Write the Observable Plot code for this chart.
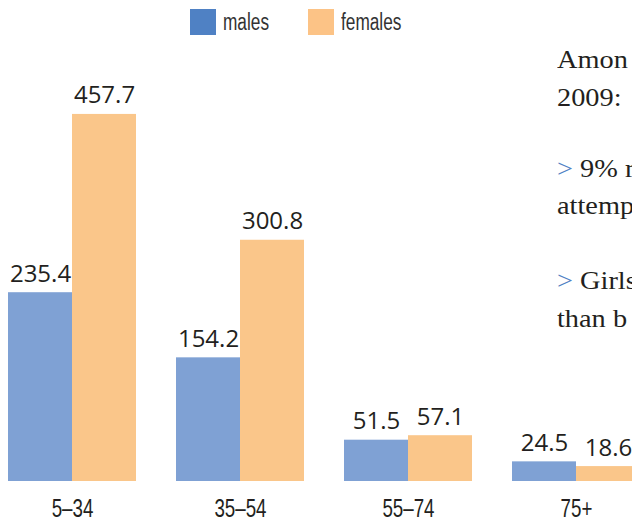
<!DOCTYPE html>
<html>
<head>
<meta charset="utf-8">
<script src="https://cdn.jsdelivr.net/npm/d3@7"></script>
<script src="https://cdn.jsdelivr.net/npm/@observablehq/plot@0.6"></script>
<style>
  html, body { margin: 0; padding: 0; width: 632px; height: 519px; overflow: hidden; background: #fff; }
  #wrap { position: relative; width: 632px; height: 519px; overflow: hidden; }
  #legend { position: relative; height: 45px; width: 632px; font-family: "Liberation Sans", Arial, sans-serif; font-size: 23px; color: #333; }
  .sw { position: absolute; top: 9px; width: 26px; height: 26px; }
  .lt { position: absolute; top: 7px; line-height: 30px; transform: scaleX(0.75); transform-origin: 0 0; white-space: nowrap; }
  #chart { position: absolute; left: 0; top: 45px; }
  #chart svg { max-width: none !important; }
  .side { position: absolute; left: 557px; font-family: "Liberation Serif", "DejaVu Serif", serif; font-size: 26px; color: #231f20; white-space: nowrap; line-height: 1; transform: scaleX(1.09); transform-origin: 0 0; }
  .gt { color: #4f81c4; }
</style>
</head>
<body>
<div id="wrap">
  <div id="legend"></div>
  <div id="chart"></div>
  <div id="side"></div>
</div>
<script>
const categories = ["5–34", "35–54", "55–74", "75+"];
const series = ["males", "females"];
const males = [235.4, 154.2, 51.5, 24.5];
const females = [457.7, 300.8, 57.1, 18.6];
const barColors = ["#7fa1d4", "#fac68a"];
const legendColors = ["#4f81c4", "#fcc386"];
const sideLines = [
  {text: "Amon", gt: false, baseline: 67},
  {text: "2009:", gt: false, baseline: 105},
  {text: "9% r", gt: true, baseline: 176},
  {text: "attemp", gt: false, baseline: 213},
  {text: "Girls", gt: true, baseline: 288},
  {text: "than b", gt: false, baseline: 326}
];

const data = [];
categories.forEach((c, i) => {
  data.push({cat: c, sex: series[0], value: males[i]});
  data.push({cat: c, sex: series[1], value: females[i]});
});

// legend
const legend = document.getElementById("legend");
const legendX = [190, 308];
series.forEach((s, i) => {
  const sw = document.createElement("div");
  sw.className = "sw";
  sw.style.left = legendX[i] + "px";
  sw.style.background = legendColors[i];
  legend.appendChild(sw);
  const t = document.createElement("div");
  t.className = "lt";
  t.style.left = (legendX[i] + 33) + "px";
  t.textContent = s;
  legend.appendChild(t);
});

const chart = Plot.plot({
  width: 660,
  height: 474,
  marginLeft: 8,
  marginRight: 20,
  marginTop: 35,
  marginBottom: 38,
  fx: {domain: categories, paddingInner: 40 / 168, paddingOuter: 0, label: null},
  x: {domain: series, padding: 0, axis: null},
  y: {domain: [0, 500], axis: null},
  color: {domain: series, range: barColors},
  style: {fontFamily: "'Open Sans', sans-serif", color: "#231f20", background: "transparent", maxWidth: "none"},
  marks: [
    Plot.barY(data, {fx: "cat", x: "sex", y: "value", fill: "sex"}),
    Plot.text(data, {fx: "cat", x: "sex", y: "value", text: d => d.value.toFixed(1),
      lineAnchor: "bottom", dy: -11, fontSize: 24, fill: "#231f20"}),
    Plot.axisFx({anchor: "bottom", tickSize: 0, tickPadding: 18, fontSize: 25, label: null,
      fontFamily: "'Liberation Sans', Arial, sans-serif", fill: "#231f20"})
  ]
});
// condensed look for the category labels
chart.querySelectorAll("g[aria-label^='fx-axis'] text").forEach(t => {
  const tr = t.getAttribute("transform") || "";
  t.setAttribute("transform", tr + " scale(0.75,1)");
});
document.getElementById("chart").appendChild(chart);

// side text
const side = document.getElementById("side");
sideLines.forEach(l => {
  const d = document.createElement("div");
  d.className = "side";
  d.style.top = (l.baseline - 20) + "px";
  if (l.gt) {
    const g = document.createElement("span");
    g.className = "gt";
    g.textContent = "> ";
    d.appendChild(g);
  }
  d.appendChild(document.createTextNode(l.text));
  side.appendChild(d);
});
</script>
</body>
</html>
